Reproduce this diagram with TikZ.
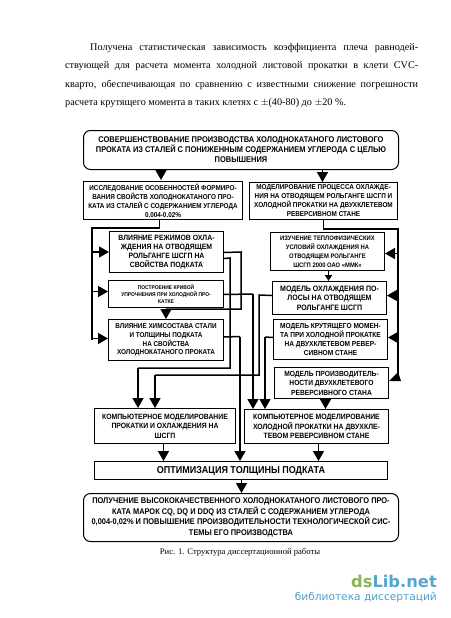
\documentclass[tikz,border=0pt]{standalone}
\usepackage{fontspec}
\setmainfont{Liberation Serif}
\newfontfamily\boxfont[FakeStretch=0.9]{Liberation Sans}
\newfontfamily\markfont{DejaVu Sans}
\usetikzlibrary{arrows.meta}
\newcommand{\boxsize}[2]{\fontsize{#1}{#2}\selectfont\boxfont\bfseries}
\tikzset{
  plainbox/.style={draw, line width=1pt, align=center, inner sep=0pt, anchor=north west},
  roundbox/.style={plainbox, rounded corners=7pt},
  wire/.style={line width=1.5pt},
  arr/.style={wire, -{Triangle[length=10pt, width=11pt]}},
  smallarr/.style={wire, -{Triangle[length=6pt, width=7pt]}}
}
\begin{document}
\begin{tikzpicture}[x=1pt, y=-1pt]
    \useasboundingbox (0,0) rectangle (450,618);
    \node[anchor=north west, text width=353pt, align=justify, inner sep=0pt, font=\fontsize{10.2}{18.5}\selectfont] (para) at (65,43)
      {\hspace*{25pt}Получена статистическая зависимость коэффициента плеча равнодей-\linebreak
       ствующей для расчета момента холодной листовой прокатки в клети CVC-\linebreak
       кварто, обеспечивающая по сравнению с известными снижение погрешности\linebreak
       расчета крутящего момента в таких клетях с $\pm$(40-80) до $\pm$20 \%.};

    \node[roundbox, minimum width=315pt, minimum height=39pt, font=\boxsize{8.3}{10}] (goal) at (83,130)
      {СОВЕРШЕНСТВОВАНИЕ  ПРОИЗВОДСТВА ХОЛОДНОКАТАНОГО ЛИСТОВОГО\\
       ПРОКАТА ИЗ СТАЛЕЙ С ПОНИЖЕННЫМ СОДЕРЖАНИЕМ УГЛЕРОДА С ЦЕЛЬЮ\\
       ПОВЫШЕНИЯ};
    \node[plainbox, minimum width=159pt, minimum height=38pt, font=\boxsize{7.05}{9}] (study) at (83,181)
      {ИССЛЕДОВАНИЕ ОСОБЕННОСТЕЙ ФОРМИРО-\\
       ВАНИЯ  СВОЙСТВ ХОЛОДНОКАТАНОГО ПРО-\\
       КАТА ИЗ СТАЛЕЙ С СОДЕРЖАНИЕМ УГЛЕРОДА\\
       0.004-0.02\%};
    \node[plainbox, minimum width=148pt, minimum height=37pt, font=\boxsize{7.1}{9}] (model) at (249,182)
      {МОДЕЛИРОВАНИЕ ПРОЦЕССА ОХЛАЖДЕ-\\
       НИЯ НА ОТВОДЯЩЕМ РОЛЬГАНГЕ ШСГП И\\
       ХОЛОДНОЙ ПРОКАТКИ НА ДВУХКЛЕТЕВОМ\\
       РЕВЕРСИВНОМ СТАНЕ};

    \node[plainbox, minimum width=114pt, minimum height=41pt, font=\boxsize{7.65}{9.2}] (cool) at (109,231)
      {ВЛИЯНИЕ РЕЖИМОВ ОХЛА-\\
       ЖДЕНИЯ НА ОТВОДЯЩЕМ\\
       РОЛЬГАНГЕ ШСГП  НА\\
       СВОЙСТВА ПОДКАТА};
    \node[plainbox, minimum width=115pt, minimum height=27pt, font=\boxsize{5.45}{7}] (curve) at (108,280)
      {ПОСТРОЕНИЕ КРИВОЙ\\
       УПРОЧНЕНИЯ ПРИ ХОЛОДНОЙ ПРО-\\
       КАТКЕ};
    \node[plainbox, minimum width=115pt, minimum height=41pt, font=\boxsize{7.05}{8.7}] (chem) at (108,319)
      {ВЛИЯНИЕ ХИМСОСТАВА СТАЛИ\\
       И ТОЛЩИНЫ ПОДКАТА\\
       НА СВОЙСТВА\\
       ХОЛОДНОКАТАНОГО ПРОКАТА};

    \node[plainbox, minimum width=114pt, minimum height=38pt, font=\boxsize{6.5}{9}] (thermo) at (270,232)
      {ИЗУЧЕНИЕ ТЕПЛОФИЗИЧЕСКИХ\\
       УСЛОВИЙ ОХЛАЖДЕНИЯ НА\\
       ОТВОДЯЩЕМ РОЛЬГАНГЕ\\
       ШСГП 2000 ОАО «ММК»};
    \node[plainbox, minimum width=114pt, minimum height=33pt, font=\boxsize{7.8}{9.5}] (strip) at (272,281)
      {МОДЕЛЬ ОХЛАЖДЕНИЯ ПО-\\
       ЛОСЫ НА ОТВОДЯЩЕМ\\
       РОЛЬГАНГЕ ШСГП};
    \node[plainbox, minimum width=114pt, minimum height=40pt, font=\boxsize{7.3}{9}] (torque) at (273,319)
      {МОДЕЛЬ КРУТЯЩЕГО МОМЕН-\\
       ТА ПРИ  ХОЛОДНОЙ ПРОКАТКЕ\\
       НА ДВУХКЛЕТЕВОМ РЕВЕР-\\
       СИВНОМ СТАНЕ};
    \node[plainbox, minimum width=114pt, minimum height=31pt, font=\boxsize{7.45}{9.5}] (output) at (274,367)
      {МОДЕЛЬ ПРОИЗВОДИТЕЛЬ-\\
       НОСТИ ДВУХКЛЕТЕВОГО\\
       РЕВЕРСИВНОГО СТАНА};

    \node[plainbox, minimum width=141pt, minimum height=35pt, font=\boxsize{7.6}{9.5}] (compL) at (94,408)
      {КОМПЬЮТЕРНОЕ МОДЕЛИРОВАНИЕ\\
       ПРОКАТКИ И ОХЛАЖДЕНИЯ НА\\
       ШСГП};
    \node[plainbox, minimum width=144pt, minimum height=34pt, font=\boxsize{7.65}{9.5}] (compR) at (244,409)
      {КОМПЬЮТЕРНОЕ МОДЕЛИРОВАНИЕ\\
       ХОЛОДНОЙ ПРОКАТКИ НА ДВУХКЛЕ-\\
       ТЕВОМ РЕВЕРСИВНОМ СТАНЕ};
    \node[plainbox, minimum width=293pt, minimum height=18pt, font=\boxsize{10}{11}] (opt) at (94,461)
      {ОПТИМИЗАЦИЯ  ТОЛЩИНЫ ПОДКАТА};
    \node[roundbox, minimum width=315pt, minimum height=48pt, font=\boxsize{8.25}{10.4}] (result) at (83,493)
      {ПОЛУЧЕНИЕ ВЫСОКОКАЧЕСТВЕННОГО ХОЛОДНОКАТАНОГО ЛИСТОВОГО ПРО-\\
       КАТА МАРОК CQ, DQ И DDQ ИЗ СТАЛЕЙ С СОДЕРЖАНИЕМ УГЛЕРОДА\\
       0,004-0,02\% И ПОВЫШЕНИЕ ПРОИЗВОДИТЕЛЬНОСТИ ТЕХНОЛОГИЧЕСКОЙ СИС-\\
       ТЕМЫ ЕГО ПРОИЗВОДСТВА};

    \node[font=\fontsize{8.6}{10}\selectfont] (caption) at (240,552) {Рис. 1. Структура диссертационной работы};
    \node[anchor=east, inner sep=0pt, font=\fontsize{16.3}{20}\selectfont\markfont\bfseries] (logo) at (437,581)
      {\textcolor[HTML]{8DB255}{ds}\textcolor[HTML]{55A5CC}{Lib.net}};
    \node[anchor=east, inner sep=0pt, text={rgb,255:red,79;green,157;blue,201}, font=\fontsize{10.6}{13}\selectfont\markfont] (sub) at (437,597)
      {библиотека диссертаций};

    \coordinate (busL) at (92,228);
    \coordinate (busR) at (398,229);
    \coordinate (busRend) at (398,378);

    \draw[arr] ([xshift=-80pt]goal.south) -- ([xshift=-80pt,yshift=1pt]goal.south |- study.north);
    \draw[arr] ([xshift=81.5pt]goal.south) -- ([xshift=81.5pt]goal.south |- model.north);

    \draw[wire] ([xshift=-3.5pt]study.south) -- ([xshift=-3.5pt]study.south |- busL) -- (busL) -- (busL |- chem.west);
    \foreach \n/\d in {cool/0, curve/2.5, chem/1.5}
    \draw[arr] ([yshift=\d pt]busL |- \n.west) -- ([yshift=\d pt]\n.west);

    \draw[wire] (model.south) -- (model.south |- busR) -- (busR) -- (busRend);
    \foreach \n/\d in {thermo/-2, strip/2.5, torque/2}
    \draw[arr] ([yshift=\d pt]busR |- \n.east) -- ([yshift=\d pt]\n.east);
    \fill (busRend) ++(0,-6) -- ++(3,9) -- ++(-12,0) -- cycle;

    \coordinate (tipchem) at (166,309);
    \draw[wire] ([yshift=-0.5pt]cool.east) -- (241,252) -- (241,309) -- (tipchem);
    \draw[arr] (tipchem) -- (tipchem |- chem.north);
    \draw[wire] ([yshift=-6.5pt]cool.east) -- (230,258) -- (230,368) -- (138,368) edge[arr] (138,408);
    \draw[wire] ([yshift=-0.5pt]curve.east) -- (253,294) edge[arr] (253,409);
    \draw[wire] ([yshift=3pt]chem.east) -- (240,336.5) edge[arr] (240,461);
    \draw[wire] ([yshift=2.5pt]strip.west) -- (259,295) -- (259,375) -- (155,375) edge[arr] (155,408);
    \draw[wire] ([yshift=2pt]torque.west) -- (265,337) edge[arr] (265,409);

    \draw[smallarr] ([xshift=1pt]thermo.south) -- ([xshift=1pt]thermo.south |- strip.north);
    \draw[arr] ([xshift=-6pt]output.south) -- ([xshift=-6pt]output.south |- compR.north);
    \draw[arr] ([xshift=-1.5pt]compL.south) -- ([xshift=-1.5pt]compL.south |- opt.north);
    \draw[arr] ([xshift=2pt]compR.south) -- ([xshift=2pt]compR.south |- opt.north);
    \draw[arr] ([xshift=0.5pt]opt.south) -- ([xshift=0.5pt]opt.south |- result.north);
\end{tikzpicture}
\end{document}
